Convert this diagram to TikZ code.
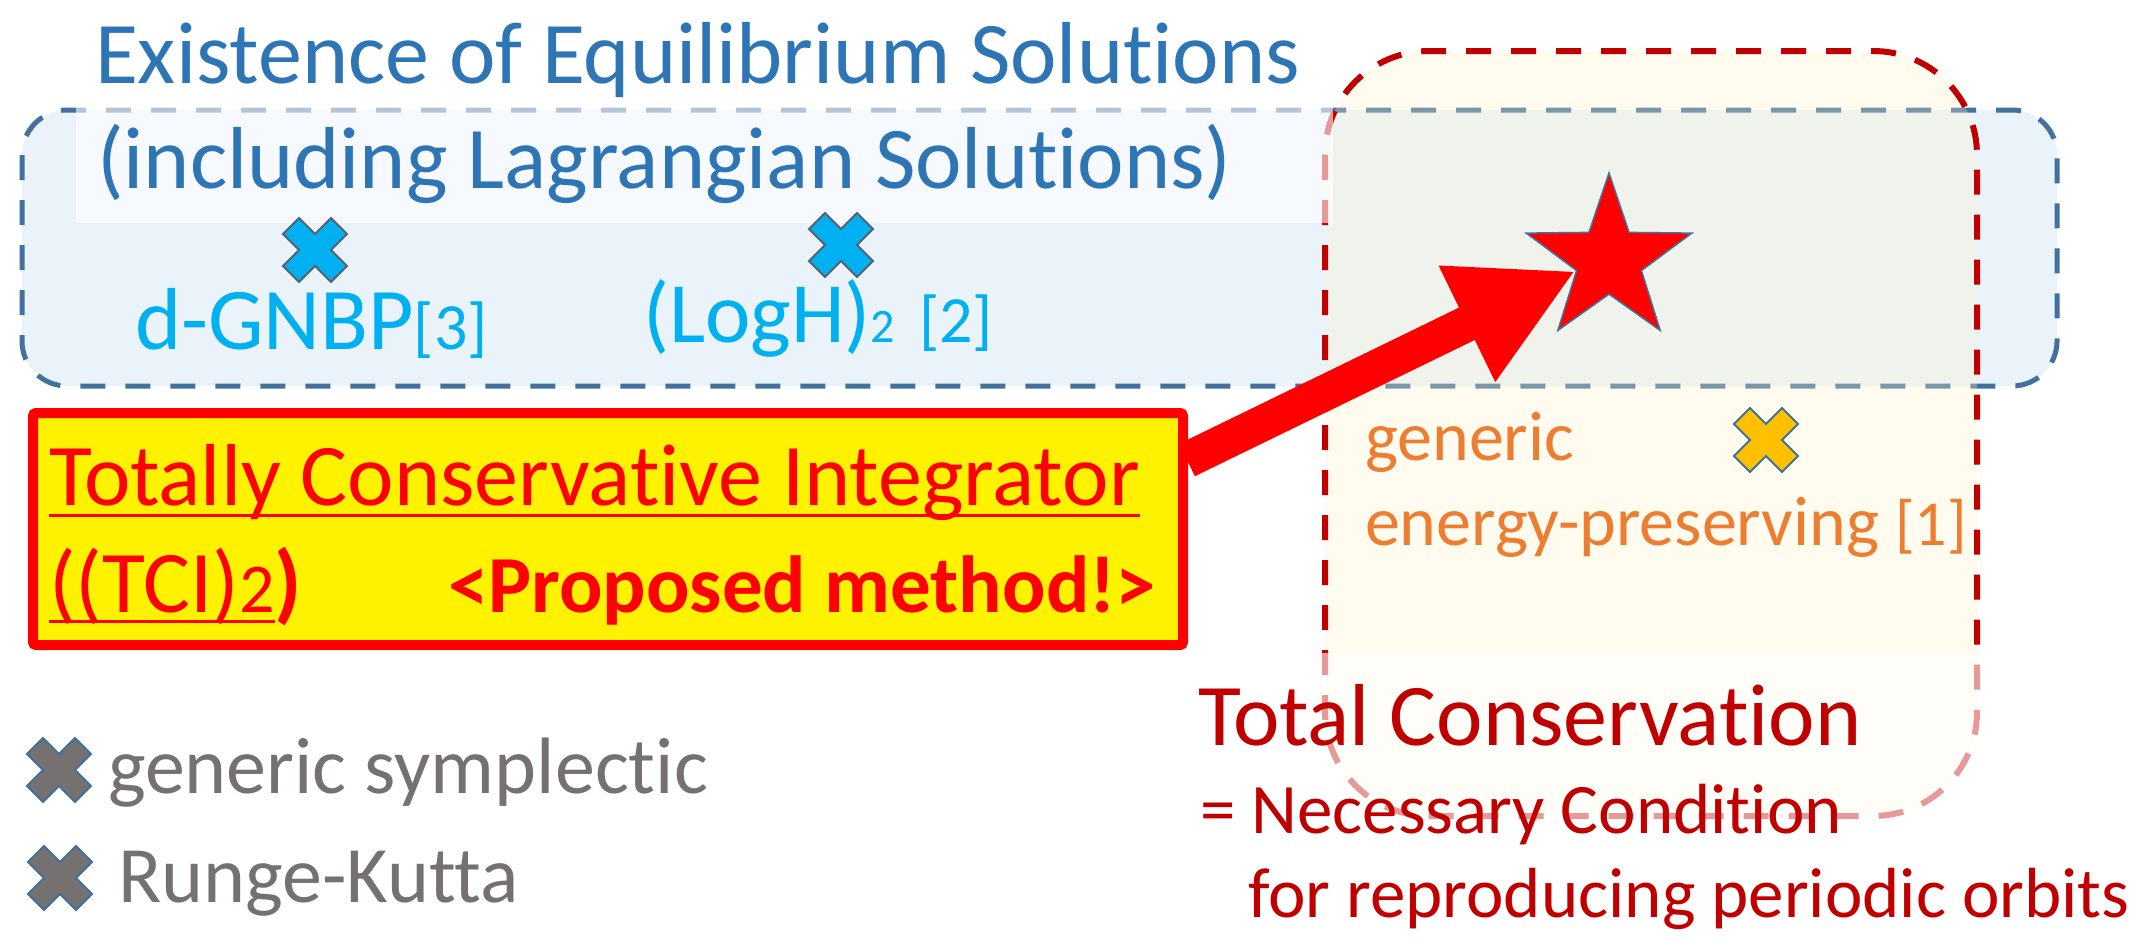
\documentclass[tikz,border=0pt]{standalone}
\usepackage{fontspec}
\setmainfont{Carlito}[Ligatures=NoCommon]
\usetikzlibrary{arrows.meta,shapes.geometric}

\definecolor{titleblue}{HTML}{2E75B6}
\definecolor{cyanx}{HTML}{00B0F0}
\definecolor{frameblue}{HTML}{41719C}
\definecolor{fillblue}{HTML}{EAF2FA}
\definecolor{cream}{HTML}{FFF2CC}
\definecolor{darkred}{HTML}{C00000}
\definecolor{orangetxt}{HTML}{ED7D31}
\definecolor{goldx}{HTML}{FFC000}
\definecolor{greyx}{HTML}{767171}
\definecolor{outlinegrey}{HTML}{56626E}

\newcommand\fsz[1]{\fontsize{#1}{#1}\selectfont}

\tikzset{
  txt/.style={anchor=base west, inner sep=0pt, outer sep=0pt},
  xmark/.pic={
    \path[pic actions] (-16,-32) -- (0,-16) -- (16,-32) -- (32,-16) -- (16,0)
      -- (32,16) -- (16,32) -- (0,16) -- (-16,32) -- (-32,16) -- (-16,0)
      -- (-32,-16) -- cycle;
  },
  cyanmark/.style={fill=cyanx, draw=outlinegrey, line width=2},
  goldmark/.style={fill=goldx, draw=frameblue, line width=2},
  greymark/.style={fill=greyx, draw=frameblue, line width=2},
  eqframe/.style={draw=frameblue, line width=5, dash pattern=on 25pt off 20pt,
    fill=fillblue, rounded corners=45},
  consframe/.style={draw=darkred, line width=6, dash pattern=on 25pt off 20pt,
    fill=cream, fill opacity=0.3, draw opacity=1, rounded corners=104},
  veil/.style={fill=white, fill opacity=0.6, draw=none},
  tcibox/.style={draw=red, fill=yellow, line width=10, rounded corners=3,
    inner sep=0pt, outer sep=0pt, anchor=north west},
}

\begin{document}
\begin{tikzpicture}[x=1pt, y=-1pt]
  \useasboundingbox (0,0) rectangle (2138,945);
  \fill[white] (0,0) rectangle (2138,945);

  % region of equilibrium solutions
  \draw[eqframe] (22,110) rectangle (2057,386);
  % region of total conservation
  \draw[consframe] (1325,51) rectangle (1977,816);

  % text boxes laid over the regions
  \fill[veil] (76,0) rectangle (1333,223);
  \fill[veil] (1185,653) rectangle (2138,945);

  % heading
  \node[txt, text=titleblue, font=\fsz{88}] (title1) at (95,83)
    {Existence of Equilibrium Solutions};
  \node[txt, text=titleblue, font=\fsz{88}] (title2) at (97,188)
    {(including Lagrangian Solutions)};

  % methods with equilibrium solutions
  \pic[cyanmark] (gnbpmark) at (315,250) {xmark};
  \pic[cyanmark] (logmark) at (841,245) {xmark};
  \node[txt, text=cyanx, font=\fsz{88}] (gnbp) at (135,349)
    {d-GNBP{\fsz{66}[3]}};
  \node[txt, text=cyanx, font=\fsz{86}] (logh) at (643,342)
    {(LogH){\fsz{48}2}\hspace{24pt}{\fsz{66}[2]}};

  % energy-preserving methods
  \pic[goldmark] (epmark) at (1766,440) {xmark};
  \node[txt, text=orangetxt, font=\fsz{70}] (ep1) at (1365,460) {generic};
  \node[txt, text=orangetxt, font=\fsz{70}] (ep2) at (1365,545)
    {energy-preserving {\fsz{64}[1]}};

  % total conservation caption
  \node[txt, text=darkred, font=\fsz{88}] (tc) at (1198,745) {Total Conservation};
  \node[txt, text=darkred, font=\fsz{71}] (nc1) at (1200,833) {= Necessary Condition};
  \node[txt, text=darkred, font=\fsz{71}] (nc2) at (1248,917)
    {for reproducing periodic orbits};

  % proposed method
  \node[star, star points=5, star point ratio=2.55, minimum size=174pt,
    inner sep=0pt, fill=red, draw=frameblue, line width=1.5] (goal) at (1609,260) {};
  \coordinate (shaftstart) at (1187,460);
  \draw[red, line width=36,
    -{Triangle[length=121pt 0 0, width=120pt 0 0]}] (shaftstart) -- (goal.inner point 2);

  \node[tcibox, minimum width=1150pt, minimum height=232pt] (tci) at (33,413) {};
  \node[txt, text=red, font=\fsz{88}] (tciname) at (49,505)
    {Totally Conservative Integrator};
  \draw[red, line width=3] ([yshift=-10pt]tciname.base west) -- ([yshift=-10pt]tciname.base east);
  \node[txt, text=red, font=\fsz{88}] (tciabbr) at (49,612)
    {((TCI){\fsz{70}2}};
  \draw[red, line width=3] ([yshift=-9pt]tciabbr.base west) -- ([yshift=-9pt]tciabbr.base east);
  \node[txt, text=red, font=\fsz{88}\bfseries] (tciclose) at (tciabbr.base east) {)};
  \node[txt, text=red, font=\fsz{81}\bfseries] (tcitag) at (448,612)
    {<Proposed method!>};

  % legend
  \pic[greymark] (sympmark) at (59,770) {xmark};
  \pic[greymark] (rkmark) at (60,878) {xmark};
  \node[txt, text=greyx, font=\fsz{80}] (symp) at (108,793) {generic symplectic};
  \node[txt, text=greyx, font=\fsz{80}] (rk) at (118,902) {Runge-Kutta};
\end{tikzpicture}
\end{document}
